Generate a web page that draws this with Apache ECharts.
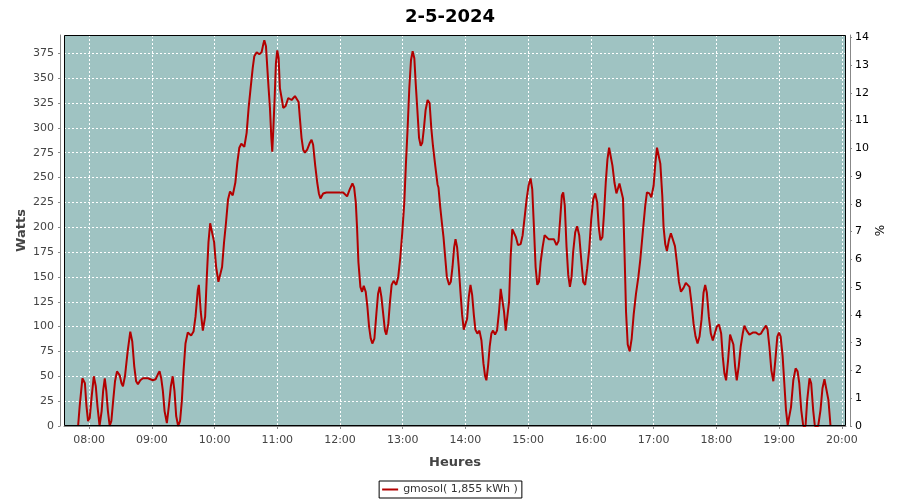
<!DOCTYPE html>
<html>
<head>
<meta charset="utf-8">
<script src="https://cdn.jsdelivr.net/npm/echarts@6/dist/echarts.min.js"></script>
<style>html,body{margin:0;padding:0;background:#fff}#c{width:900px;height:500px}</style>
</head>
<body>
<div id="c"></div>
<script>
const titleText = '2-5-2024';
const seriesName = 'gmosol( 1,855 kWh )';
const xAxisName = 'Heures';
const yAxisName = 'Watts';
const y2AxisName = '%';
// minutes since midnight
const minutes = [469.5,471,473.6,476,477.5,479,480.6,482.5,484.5,486.4,488,490,492,493.4,495,496.5,498,499.7,501.3,503,504.8,506.7,509.3,511,512.4,514.3,516.9,519.4,521.3,523.2,525,526.7,529,531.5,536.3,541,543.6,545.8,547.4,549,550.6,552.2,554.4,556.3,558.2,560,561.7,563.3,565.2,567,568.7,570.3,572.2,574.4,577.6,579.9,581.8,584,585,586.8,588.8,591,592.6,594.2,595.8,597.7,599.6,601.5,603.7,605.3,607.2,609.1,611,612.9,614.8,617.4,619.9,621.8,623.7,625.6,628.5,630.7,632.6,634.5,636.5,638,640.3,642.8,643.5,645,646.6,647.6,649.2,650.5,651.7,653,654.3,655.2,656.2,657.5,658.7,660,661.3,662.5,664.5,665.7,668,670.5,673.7,676.9,678.4,680.4,681.6,683.2,684.8,686.4,688.6,691.2,692.8,694.3,696.3,698.2,699.8,701.3,703.9,707,713.4,719.8,723,724.9,726.8,729.3,731.9,733.5,735.1,736.3,737.6,739.5,741.1,742.7,744.6,746.2,747.8,749.4,750.9,752.9,754.8,756.4,758,759.6,761.1,763,764.3,766.2,767.8,769.4,771.3,773.8,775.7,777.7,779.6,781.5,783.1,784.7,786.3,787.9,789.5,791.1,792.4,794,795.6,797.2,798.7,800.3,801.9,803.8,805.7,807.3,808.9,811.1,813.3,814.2,815.8,817.4,819,820.6,822.2,824.4,826,827.6,829.2,830.5,832,833.6,835.2,836.8,838.4,840,841.6,843.2,844.8,846.4,848,849.5,851.4,853.4,855.3,857.2,858.8,860,861.6,863.2,864.8,866.4,868.3,870.2,872.1,873.7,875.3,876.9,878.5,880.1,881.7,883.2,884.8,886.4,888.3,890.2,892.8,894.7,896.6,898.5,900.4,902.3,903.9,905.5,907.1,908.7,910.3,911.9,913.8,915.7,917.6,919.5,922,924.6,927.1,929,930.6,932.2,933.5,935,936.7,938.3,939.9,941.5,943,945,946.8,948.8,950.7,952.6,954.5,956.4,958.4,960.3,962.2,964.1,966,967.5,969.1,971,972.6,974.2,975.8,977.4,979,980.6,982.5,984.4,985.7,987.3,989.2,990.7,992,993.6,995.2,997.1,999,1000.9,1003.1,1005.4,1007.3,1009.8,1012,1013.6,1015.9,1017.8,1020,1021.6,1023.2,1024.8,1026.4,1028.3,1029.5,1031.1,1032.7,1034.6,1036.5,1038.1,1040.4,1042.3,1044.2,1046.1,1048.6,1050.8,1052.4,1054.3,1056.3,1058.2,1060.1,1062,1063.9,1065.8,1067.7,1069.3,1070.9,1072.8,1074.7,1076.6,1078.5,1080.4,1082.6,1084.6,1086.1,1087.7,1089.3,1091.2,1093.1,1094.7,1096.3,1097.9,1099.5,1101.4,1103.3,1105.2,1106.8,1109,1111.6,1114.8,1117.9,1120.5,1122.7,1124.9,1127.5,1129,1130.7,1132.6,1134.5,1136.4,1138.3,1139.9,1141.5,1143.4,1145,1146.6,1148.2,1149.8,1151.4,1153.6,1155.8,1157.7,1159.3,1161.2,1163.1,1165.3,1166.9,1169.1,1170.7,1172.6,1174.2,1177.4,1179.6,1181.5,1183.4,1185.3,1187.2,1189.2];
const watts = [0,20,48,43,20,5,8,30,50,40,20,0,15,35,48,35,15,0,5,25,45,55,51,43,40,50,75,95,85,60,45,42,46,48,48,46,47,52,55,48,35,15,3,20,40,50,35,10,0,5,25,55,83,94,91,95,110,137,142,115,96,110,150,185,204,202,185,160,145,143,160,185,205,228,236,232,245,265,280,284,281,295,320,340,360,372,376,374,373,376,384,388,382,360,340,320,290,276,298,330,365,378,370,340,328,320,322,330,328,332,334,326,310,290,278,275,278,285,288,283,262,245,234,229,234,235,235,235,235,233,231,238,244,240,225,200,165,140,135,141,135,120,100,88,83,88,113,133,140,130,115,96,92,103,125,142,146,142,150,170,195,225,265,300,340,368,377,370,345,318,290,282,285,300,318,328,325,300,282,262,243,240,221,205,190,170,150,142,145,160,180,188,180,160,135,112,97,95,108,130,142,132,112,97,93,96,86,63,50,46,60,80,93,96,92,96,115,138,138,115,96,95,125,170,198,200,190,182,183,192,210,228,242,249,238,200,160,142,145,165,180,192,193,188,188,188,182,186,208,232,235,222,180,152,140,150,175,195,201,192,168,145,142,158,178,208,228,234,225,200,187,190,215,245,268,280,278,262,245,234,234,244,243,229,180,115,82,75,88,112,133,150,168,197,222,235,234,230,242,264,280,282,264,231,200,183,176,187,194,196,181,164,145,135,139,144,145,140,123,103,90,83,90,107,134,142,134,110,93,86,93,100,102,93,70,53,46,66,92,93,82,60,46,60,80,93,101,96,92,94,94,92,93,97,101,97,80,56,45,66,90,94,90,70,43,16,1,3,19,46,58,55,43,16,0,0,26,48,43,16,0,0,16,38,47,45,26,0];
const xMinMinutes = 456;   // 07:36
const xMaxMinutes = 1204;  // 20:04
const yMax = 393.4;
const y2Max = 14.08;

const base = Date.UTC(2024, 4, 2, 0, 0, 0);
const data = minutes.map((m, i) => [base + m * 60000, watts[i]]);
const font = 'DejaVu Sans';
const G = {left: 64, right: 54, top: 35, bottom: 74};
const chart = echarts.init(document.getElementById('c'), null, {renderer: 'canvas'});
chart.setOption({
  useUTC: true,
  animation: false,
  backgroundColor: '#ffffff',
  title: {
    text: titleText, left: 'center', top: 3,
    textStyle: {fontFamily: font, fontWeight: 'bold', fontSize: 18, color: '#000'}
  },
  legend: {
    bottom: 2, left: 'center',
    data: [seriesName],
    borderColor: '#000', borderWidth: 1, borderRadius: 0,
    padding: [3, 4, 3, 3],
    icon: 'rect', itemWidth: 16, itemHeight: 2, itemGap: 4,
    textStyle: {fontFamily: font, fontSize: 11, color: '#333'}
  },
  grid: {
    left: G.left, right: G.right, top: G.top, bottom: G.bottom,
    show: true, backgroundColor: '#9fc3c2', borderColor: '#000', borderWidth: 0
  },
  graphic: [{
    type: 'rect', z: 100, silent: true,
    shape: {x: G.left + 0.5, y: G.top + 0.5, width: 900 - G.left - G.right - 1, height: 500 - G.top - G.bottom - 1},
    style: {fill: 'none', stroke: '#000', lineWidth: 1}
  }],
  xAxis: {
    type: 'time',
    min: base + xMinMinutes * 60000,
    max: base + xMaxMinutes * 60000,
    minInterval: 3600000, maxInterval: 3600000,
    offset: 4,
    name: xAxisName, nameLocation: 'middle', nameGap: 26,
    nameTextStyle: {fontFamily: font, fontWeight: 'bold', fontSize: 13, color: '#444'},
    axisLine: {show: true, lineStyle: {color: '#888', width: 1}},
    axisTick: {show: true, length: 3, lineStyle: {color: '#888'}},
    axisLabel: {
      formatter: '{HH}:{mm}', showMinLabel: false, showMaxLabel: false,
      fontFamily: font, fontSize: 11, color: '#444', margin: 5
    },
    splitLine: {show: true, showMinLine: false, showMaxLine: false,
      lineStyle: {color: '#ffffff', type: [2, 2], width: 1}}
  },
  yAxis: [{
    type: 'value', min: 0, max: yMax, interval: 25, offset: 4,
    name: yAxisName, nameLocation: 'middle', nameGap: 32, nameRotate: 90, nameMoveOverlap: false,
    nameTextStyle: {fontFamily: font, fontWeight: 'bold', fontSize: 13, color: '#444'},
    axisLine: {show: true, lineStyle: {color: '#888', width: 1}},
    axisTick: {show: true, length: 2, lineStyle: {color: '#888'}},
    axisLabel: {showMaxLabel: false, fontFamily: font, fontSize: 11, color: '#444', margin: 6},
    splitLine: {show: true, showMinLine: false, showMaxLine: false,
      lineStyle: {color: '#ffffff', type: [2, 2], width: 1}}
  }, {
    type: 'value', min: 0, max: y2Max, interval: 1, offset: 4, position: 'right',
    name: y2AxisName, nameLocation: 'middle', nameGap: 25, nameRotate: 90, nameMoveOverlap: false,
    nameTextStyle: {fontFamily: font, fontSize: 12, color: '#000'},
    axisLine: {show: true, lineStyle: {color: '#888', width: 1}},
    axisTick: {show: true, length: 2, lineStyle: {color: '#888'}},
    axisLabel: {showMaxLabel: false, fontFamily: font, fontSize: 11, color: '#000', margin: 5},
    splitLine: {show: false}
  }],
  series: [{
    name: seriesName, type: 'line', data: data, yAxisIndex: 0,
    showSymbol: false, symbol: 'none',
    lineStyle: {color: '#b30000', width: 2},
    itemStyle: {color: '#b30000'}
  }]
});
</script>
</body>
</html>
